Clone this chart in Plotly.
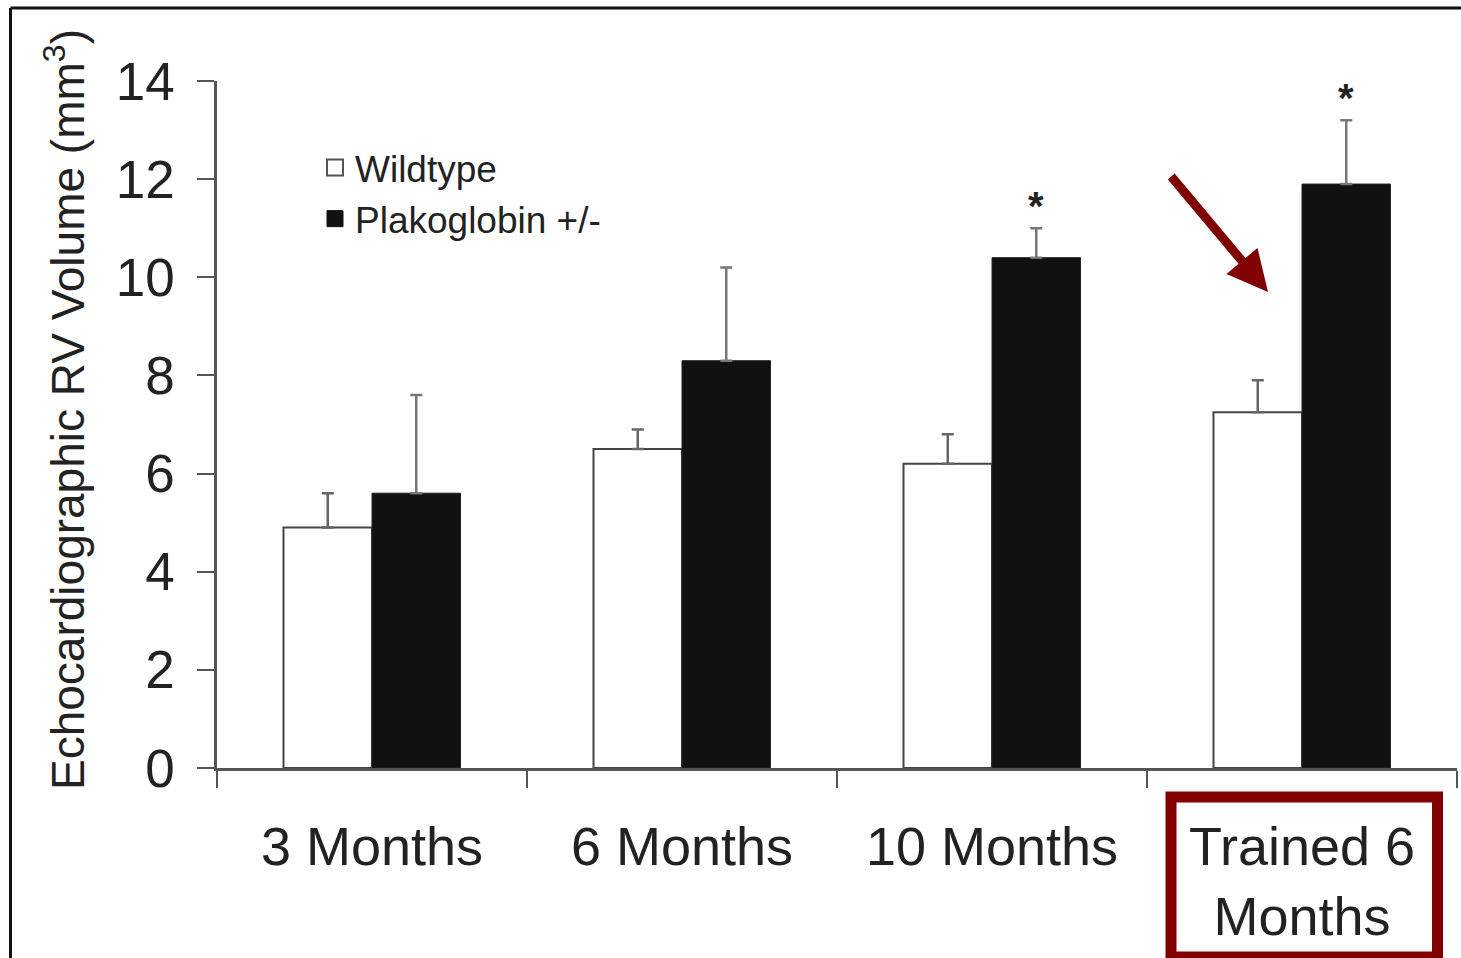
import plotly.graph_objects as go

# Echocardiographic RV volume by age / training group
categories = ["3 Months", "6 Months", "10 Months", "Trained 6<br>Months"]
wildtype = [4.9, 6.5, 6.2, 7.25]
wildtype_err = [0.7, 0.4, 0.6, 0.65]
plakoglobin = [5.6, 8.3, 10.4, 11.9]
plakoglobin_err = [2.0, 1.9, 0.6, 1.3]
significant = [False, False, True, True]
y_ticks = [0, 2, 4, 6, 8, 10, 12, 14]

W, H = 1461, 958
ML, MR, MT, MB = 217, 4, 81, 190
PW, PH = W - ML - MR, H - MT - MB


def px(x):
    return (x - ML) / PW


def py(y):
    return (H - MB - y) / PH


FONT = "Liberation Sans, Arial, Helvetica, sans-serif"
AXIS = "#555555"
TEXT = "#222222"
DARKRED = "#800000"

fig = go.Figure()

fig.add_bar(
    x=categories, y=wildtype, name="Wildtype", showlegend=False,
    marker=dict(color="white", line=dict(color="#444444", width=2)),
    error_y=dict(type="data", symmetric=False, array=wildtype_err,
                 arrayminus=[0] * len(wildtype_err),
                 color="#666666", thickness=2.5, width=6),
)
fig.add_bar(
    x=categories, y=plakoglobin, name="Plakoglobin +/-", showlegend=False,
    marker=dict(color="#111111", line=dict(color="#222222", width=1)),
    error_y=dict(type="data", symmetric=False, array=plakoglobin_err,
                 arrayminus=[0] * len(plakoglobin_err),
                 color="#777777", thickness=2.5, width=6),
)

# legend entries
fig.add_scatter(x=[None], y=[None], mode="markers", name="Wildtype",
                marker=dict(symbol="square", size=16, color="white",
                            line=dict(color="#555555", width=2)))
fig.add_scatter(x=[None], y=[None], mode="markers", name="Plakoglobin +/-",
                marker=dict(symbol="square", size=16, color="#111111",
                            line=dict(color="#111111", width=1)))

annotations = []
# significance asterisks above the plakoglobin bars
for cat, v, e, s in zip(categories, plakoglobin, plakoglobin_err, significant):
    if s:
        annotations.append(dict(
            x=cat, y=v + e + 0.45, xref="x", yref="y", xshift=44,
            text="<b>*</b>", showarrow=False, yanchor="middle",
            font=dict(family=FONT, size=40, color="#222222"),
        ))

# y-axis title
annotations.append(dict(
    x=px(65), y=py(410), xref="paper", yref="paper",
    text="Echocardiographic RV Volume (mm<sup>3</sup>)", textangle=-90,
    showarrow=False, xanchor="center", yanchor="middle",
    font=dict(family=FONT, size=46, color=TEXT),
))

# highlight arrow
annotations.append(dict(
    x=px(1268), y=py(292), xref="paper", yref="paper",
    ax=1170 - 1268, ay=175 - 292, axref="pixel", ayref="pixel",
    text="", showarrow=True, arrowhead=2, arrowsize=0.9,
    arrowwidth=9, arrowcolor=DARKRED,
))

shapes = [
    # frame
    dict(type="line", xref="paper", yref="paper",
         x0=px(10.5), x1=px(W + 5), y0=py(8), y1=py(8),
         line=dict(color="#111111", width=3)),
    dict(type="line", xref="paper", yref="paper",
         x0=px(10.5), x1=px(10.5), y0=py(8), y1=py(H + 5),
         line=dict(color="#111111", width=3)),
    # highlight box round the trained group label
    dict(type="rect", xref="paper", yref="paper",
         x0=px(1171), x1=px(1437.5), y0=py(797), y1=py(957),
         line=dict(color=DARKRED, width=11), fillcolor="rgba(0,0,0,0)"),
]

fig.update_layout(
    width=W, height=H, autosize=False,
    margin=dict(l=ML, r=MR, t=MT, b=MB, pad=0),
    paper_bgcolor="white", plot_bgcolor="white",
    barmode="group", bargap=0.429, bargroupgap=0,
    font=dict(family=FONT, color=TEXT),
    showlegend=True,
    legend=dict(x=px(315), y=py(137), xanchor="left", yanchor="top",
                bgcolor="rgba(0,0,0,0)", borderwidth=0,
                font=dict(family=FONT, size=37, color=TEXT),
                itemsizing="trace", tracegroupgap=0),
    annotations=annotations,
    shapes=shapes,
)

fig.update_xaxes(
    type="category", tickson="boundaries", ticks="outside", ticklen=17,
    tickwidth=2, tickcolor=AXIS, showline=True, linecolor=AXIS, linewidth=2.5,
    showgrid=False, zeroline=False, automargin=False, ticklabelstandoff=29,
    tickfont=dict(family=FONT, size=54, color=TEXT),
)
fig.update_yaxes(
    range=[0, 14], tickvals=y_ticks, ticks="outside", ticklen=17,
    tickwidth=2, tickcolor=AXIS, showline=True, linecolor=AXIS, linewidth=2.5,
    showgrid=False, zeroline=False, automargin=False, ticklabelstandoff=12,
    tickfont=dict(family=FONT, size=53, color=TEXT),
)

fig.write_html("out.html")
